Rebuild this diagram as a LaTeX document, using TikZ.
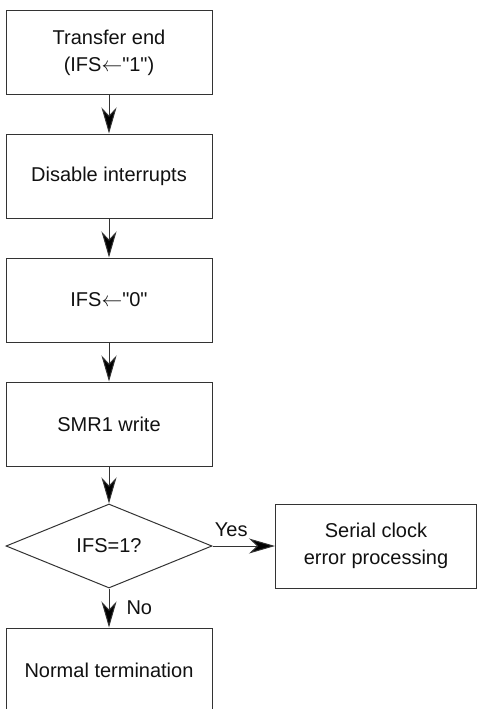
\documentclass[tikz,border=0pt]{standalone}
\usepackage{fontspec}
\setmainfont{Liberation Sans}
\usetikzlibrary{shapes.geometric,arrows.meta}
\definecolor{flowline}{HTML}{333333}
\definecolor{flowtext}{HTML}{111111}

\begin{document}
\begin{tikzpicture}[
        x=1pt, y=-1pt,
        every node/.style={font=\fontsize{20}{27}\selectfont, text=flowtext},
        proc/.style={
          draw=flowline, line width=1pt,
          minimum width=206pt, minimum height=84pt,
          inner sep=0pt, align=center,
        },
        dec/.style={
          draw=flowline, line width=1pt, diamond, aspect=2.45,
          minimum width=206pt, minimum height=84pt, inner sep=0pt,
        },
        flow/.style={-{Stealth[length=26pt,width=15pt,inset=8pt,fill=black]}, draw=flowline, line width=1pt},
        lbl/.style={inner sep=2pt},
      ]
      \useasboundingbox (0,0) rectangle (477,709);

      \node[proc] (xfer)  at (109, 52.5) {Transfer end\\(IFS$\leftarrow$\textquotedbl 1\textquotedbl)};
      \node[proc] (dis)   at (109, 176)  {Disable interrupts};
      \node[proc] (clr)   at (109, 300)  {IFS$\leftarrow$\textquotedbl 0\textquotedbl};
      \node[proc] (smr)   at (109, 424)  {SMR1 write};
      \node[dec]  (chk)   at (109, 546)  {IFS=1?};
      \node[proc] (err)   at (376, 546)  [minimum width=201pt] {Serial clock\\error processing};
      \node[proc] (done)  at (109, 670)  {Normal termination};

      \draw[flow] (xfer) -- (dis);
      \draw[flow] (dis)  -- (clr);
      \draw[flow] (clr)  -- (smr);
      \draw[flow] (smr)  -- (chk);
      \draw[flow] (chk)  -- (err) node[pos=0.3, above, lbl, yshift=7pt] {Yes};
      \draw[flow] (chk)  -- (done) node[midway, right, lbl, xshift=15pt] {No};
    \end{tikzpicture}
\end{document}
